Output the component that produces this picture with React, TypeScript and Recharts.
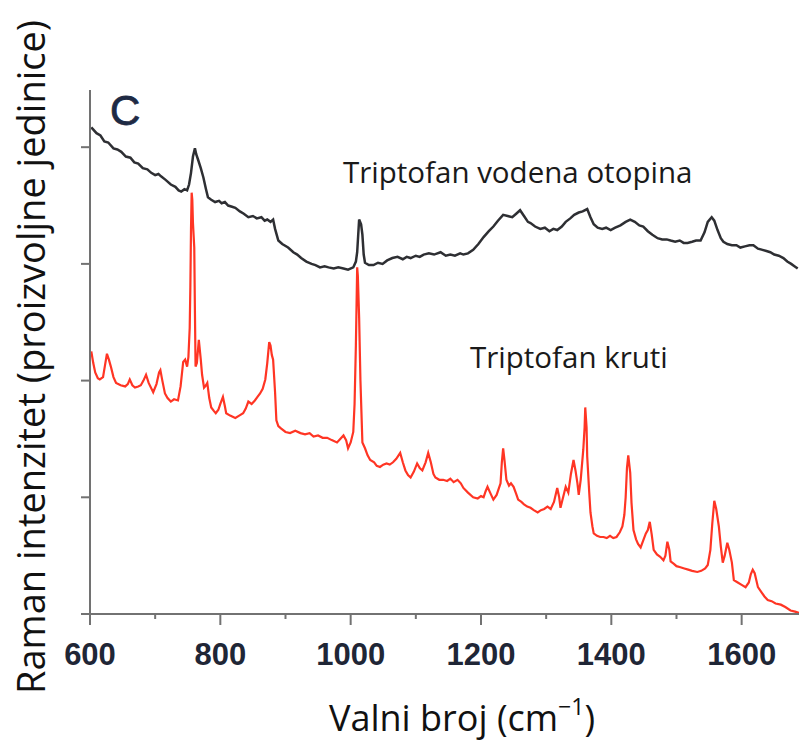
import React from 'react';
import { LineChart, Line, XAxis, YAxis } from 'recharts';

// wavenumber (cm-1) and intensity
const aqWn = [602, 610, 616, 622, 628, 636, 642, 648, 655, 662, 668, 674, 681, 688, 694, 700, 705, 709, 716, 724, 731, 736, 740, 745, 749, 752, 755, 758, 761, 763, 766, 770, 774, 778, 781, 786, 792, 798, 802, 807, 812, 818, 823, 830, 836, 843, 850, 856, 863, 868, 872, 877, 881, 884, 889, 895, 904, 912, 918, 924, 932, 940, 946, 953, 960, 966, 974, 981, 989, 996, 1004, 1008, 1010, 1013, 1016, 1018, 1020, 1022, 1028, 1035, 1042, 1049, 1056, 1064, 1072, 1080, 1086, 1092, 1100, 1106, 1112, 1120, 1128, 1138, 1146, 1153, 1160, 1168, 1173, 1180, 1188, 1196, 1204, 1212, 1219, 1226, 1234, 1241, 1248, 1254, 1260, 1266, 1272, 1276, 1283, 1291, 1298, 1305, 1311, 1317, 1324, 1330, 1337, 1343, 1350, 1356, 1363, 1368, 1373, 1379, 1386, 1392, 1399, 1406, 1414, 1422, 1429, 1436, 1443, 1449, 1456, 1463, 1471, 1478, 1485, 1491, 1498, 1505, 1511, 1517, 1524, 1530, 1537, 1543, 1548, 1554, 1558, 1563, 1568, 1572, 1578, 1585, 1592, 1598, 1605, 1612, 1618, 1625, 1632, 1638, 1644, 1650, 1657, 1664, 1670, 1676, 1681, 1686];
const aqVal = [4.17, 4.12, 4.10, 4.05, 4.04, 3.99, 3.98, 3.96, 3.92, 3.91, 3.87, 3.86, 3.82, 3.81, 3.78, 3.76, 3.77, 3.75, 3.72, 3.68, 3.66, 3.63, 3.62, 3.64, 3.63, 3.68, 3.78, 3.92, 3.99, 3.94, 3.89, 3.82, 3.74, 3.64, 3.57, 3.55, 3.53, 3.54, 3.52, 3.53, 3.50, 3.49, 3.48, 3.45, 3.43, 3.40, 3.41, 3.39, 3.40, 3.37, 3.38, 3.36, 3.38, 3.30, 3.20, 3.17, 3.14, 3.10, 3.08, 3.05, 3.02, 3.00, 2.99, 2.97, 2.98, 2.97, 2.96, 2.97, 2.96, 2.95, 2.97, 3.02, 3.10, 3.38, 3.34, 3.25, 3.08, 3.01, 2.99, 2.99, 3.01, 3.00, 3.03, 3.05, 3.06, 3.04, 3.06, 3.05, 3.07, 3.06, 3.08, 3.09, 3.08, 3.10, 3.07, 3.08, 3.07, 3.09, 3.08, 3.09, 3.12, 3.17, 3.23, 3.28, 3.32, 3.37, 3.42, 3.41, 3.40, 3.43, 3.46, 3.41, 3.36, 3.35, 3.32, 3.30, 3.31, 3.28, 3.30, 3.29, 3.32, 3.36, 3.39, 3.42, 3.44, 3.45, 3.47, 3.40, 3.34, 3.31, 3.30, 3.31, 3.29, 3.31, 3.33, 3.36, 3.38, 3.36, 3.33, 3.32, 3.28, 3.25, 3.22, 3.21, 3.21, 3.20, 3.19, 3.20, 3.18, 3.18, 3.19, 3.20, 3.20, 3.27, 3.36, 3.40, 3.37, 3.29, 3.22, 3.19, 3.17, 3.16, 3.16, 3.14, 3.15, 3.16, 3.16, 3.13, 3.12, 3.11, 3.10, 3.08, 3.07, 3.05, 3.02, 3.00, 2.98, 2.96];

const solWn = [602, 605, 608, 612, 615, 620, 623, 626, 629, 632, 636, 640, 647, 654, 658, 661, 665, 669, 674, 678, 682, 686, 690, 697, 702, 706, 708, 711, 715, 719, 724, 729, 735, 739, 743, 746, 749, 751, 753, 754, 755, 756, 757, 758, 760, 761, 762, 764, 767, 770, 772, 775, 778, 780, 783, 786, 790, 793, 797, 800, 804, 807, 809, 815, 823, 829, 835, 839, 843, 848, 853, 857, 861, 865, 869, 872, 875, 877, 879, 881, 884, 886, 889, 893, 900, 907, 915, 923, 930, 937, 943, 950, 957, 964, 971, 979, 984, 989, 993, 996, 1000, 1004, 1006, 1008, 1010, 1011, 1013, 1015, 1018, 1022, 1026, 1030, 1036, 1040, 1045, 1050, 1055, 1060, 1065, 1070, 1076, 1080, 1084, 1088, 1092, 1097, 1102, 1106, 1110, 1115, 1119, 1123, 1127, 1130, 1136, 1142, 1148, 1153, 1158, 1164, 1169, 1173, 1180, 1188, 1195, 1200, 1204, 1207, 1210, 1214, 1219, 1224, 1230, 1232, 1234, 1236, 1239, 1243, 1246, 1250, 1254, 1257, 1262, 1266, 1271, 1276, 1281, 1287, 1292, 1297, 1302, 1307, 1312, 1317, 1320, 1322, 1326, 1330, 1334, 1338, 1342, 1345, 1348, 1350, 1353, 1357, 1359, 1360, 1362, 1363, 1366, 1368, 1371, 1373, 1378, 1383, 1388, 1393, 1398, 1403, 1408, 1413, 1417, 1420, 1422, 1424, 1426, 1429, 1431, 1434, 1438, 1441, 1445, 1449, 1453, 1456, 1459, 1462, 1465, 1470, 1475, 1480, 1483, 1486, 1489, 1491, 1496, 1500, 1506, 1512, 1518, 1524, 1532, 1538, 1544, 1548, 1552, 1555, 1558, 1561, 1565, 1568, 1571, 1574, 1578, 1581, 1585, 1588, 1594, 1600, 1606, 1611, 1614, 1617, 1620, 1625, 1630, 1635, 1640, 1646, 1652, 1660, 1667, 1675, 1682, 1688];
const solVal = [2.25, 2.15, 2.07, 2.02, 2.01, 2.03, 2.13, 2.23, 2.18, 2.12, 2.03, 1.98, 1.96, 1.95, 1.97, 2.01, 1.96, 1.94, 1.95, 1.96, 2.00, 2.05, 1.98, 1.90, 1.97, 2.07, 2.09, 2.00, 1.89, 1.85, 1.82, 1.84, 1.83, 1.95, 2.16, 2.18, 2.12, 2.20, 2.45, 2.80, 3.30, 3.61, 3.55, 3.35, 3.14, 2.60, 2.12, 2.15, 2.35, 2.18, 2.05, 1.94, 1.96, 1.98, 1.85, 1.77, 1.74, 1.72, 1.75, 1.80, 1.86, 1.78, 1.72, 1.70, 1.68, 1.70, 1.72, 1.76, 1.82, 1.80, 1.83, 1.86, 1.89, 1.93, 2.01, 2.15, 2.33, 2.30, 2.22, 2.18, 1.90, 1.66, 1.61, 1.59, 1.56, 1.55, 1.57, 1.55, 1.54, 1.55, 1.52, 1.53, 1.51, 1.51, 1.49, 1.47, 1.50, 1.53, 1.49, 1.42, 1.47, 1.56, 1.80, 2.30, 2.97, 2.90, 2.54, 2.00, 1.47, 1.42, 1.36, 1.32, 1.30, 1.27, 1.26, 1.28, 1.29, 1.28, 1.30, 1.33, 1.38, 1.30, 1.23, 1.19, 1.17, 1.22, 1.29, 1.25, 1.23, 1.30, 1.38, 1.30, 1.20, 1.17, 1.15, 1.15, 1.14, 1.16, 1.13, 1.15, 1.12, 1.08, 1.04, 1.00, 0.99, 1.01, 1.00, 1.05, 1.09, 1.04, 0.98, 1.02, 1.12, 1.30, 1.42, 1.32, 1.15, 1.10, 1.12, 1.09, 1.03, 0.98, 0.96, 0.94, 0.92, 0.91, 0.89, 0.87, 0.89, 0.90, 0.92, 0.90, 0.96, 1.08, 1.00, 0.91, 1.00, 1.09, 1.04, 1.20, 1.32, 1.23, 1.12, 1.02, 1.15, 1.41, 1.60, 1.77, 1.60, 1.35, 1.05, 0.87, 0.75, 0.69, 0.67, 0.66, 0.66, 0.65, 0.67, 0.65, 0.66, 0.70, 0.75, 0.85, 1.00, 1.25, 1.36, 1.21, 0.95, 0.72, 0.64, 0.60, 0.57, 0.63, 0.69, 0.72, 0.79, 0.68, 0.55, 0.51, 0.49, 0.46, 0.50, 0.62, 0.55, 0.45, 0.43, 0.41, 0.40, 0.39, 0.38, 0.37, 0.36, 0.37, 0.39, 0.42, 0.55, 0.78, 0.97, 0.90, 0.75, 0.58, 0.44, 0.50, 0.61, 0.55, 0.44, 0.29, 0.27, 0.25, 0.23, 0.27, 0.34, 0.38, 0.35, 0.23, 0.19, 0.15, 0.12, 0.11, 0.09, 0.08, 0.06, 0.03, 0.02, 0.01];

const xTicks = [600, 700, 800, 900, 1000, 1100, 1200, 1300, 1400, 1500, 1600];
const yTicks = [0, 1, 2, 3, 4];

const aqueous = aqWn.map((wn, i) => ({ wn, v: aqVal[i] }));
const solid = solWn.map((wn, i) => ({ wn, v: solVal[i] }));

const axisColor = '#727272';
const labelFont = '"Open Sans", "Noto Sans", sans-serif';

const XTick = (props: any) => {
  const { x, y, payload } = props;
  const major = payload.value % 200 === 0;
  return (
    <g>
      <line x1={x} x2={x} y1={y} y2={y + (major ? 11 : 5)} stroke={axisColor} strokeWidth={2} />
      {major && (
        <text
          x={x}
          y={y + 51}
          textAnchor="middle"
          fontFamily='"Liberation Sans", Arial, sans-serif'
          fontWeight="bold"
          fontSize={31}
          fill="#1f2636"
        >
          {payload.value}
        </text>
      )}
    </g>
  );
};

// y axis: short outward tick marks only, no numbers
const YTick = (props: any) => {
  const { x, y } = props;
  return <line x1={x} x2={x + 9} y1={y} y2={y} stroke={axisColor} strokeWidth={2} />;
};

export default function App() {
  return (
    <div style={{ position: 'absolute', left: 0, top: 0, background: '#fff' }}>
      <LineChart
        width={799}
        height={744}
        margin={{ top: 90, right: 0, bottom: 0, left: 0 }}
      >
        <XAxis
          type="number"
          dataKey="wn"
          domain={[600, 1688]}
          allowDataOverflow
          ticks={xTicks}
          interval={0}
          height={130}
          tickSize={0}
          tickMargin={0}
          tickLine={false}
          tick={<XTick />}
          axisLine={{ stroke: axisColor, strokeWidth: 2 }}
        />
        <YAxis
          type="number"
          dataKey="v"
          domain={[0, 4.49]}
          allowDataOverflow
          ticks={yTicks}
          interval={0}
          width={90}
          tickSize={9}
          tickMargin={0}
          tickLine={false}
          tick={<YTick />}
          axisLine={{ stroke: axisColor, strokeWidth: 2 }}
        />
        <Line
          data={aqueous}
          dataKey="v"
          type="linear"
          stroke="#2e2f33"
          strokeWidth={2.5}
          dot={false}
          isAnimationActive={false}
        />
        <Line
          data={solid}
          dataKey="v"
          type="linear"
          stroke="#ff3524"
          strokeWidth={2.2}
          dot={false}
          isAnimationActive={false}
        />
        <text x={110} y={125} fontFamily='"Liberation Sans", Arial, sans-serif' fontSize={42} fill="#1e2a44" stroke="#1e2a44" strokeWidth={0.8}>
          C
        </text>
        <text x={343} y={183} fontFamily={labelFont} fontSize={29.5} fill="#1a1a1a">
          Triptofan vodena otopina
        </text>
        <text x={470} y={368} fontFamily={labelFont} fontSize={29.5} fill="#1a1a1a">
          Triptofan kruti
        </text>
        <text
          x={30}
          y={357}
          transform="rotate(-90 30 357)"
          textAnchor="middle"
          dominantBaseline="central"
          fontFamily={labelFont}
          fontSize={38}
          fill="#111"
        >
          Raman intenzitet (proizvoljne jedinice)
        </text>
        <text x={462} y={731} textAnchor="middle" fontFamily={labelFont} fontSize={36} fill="#111">
          Valni broj (cm<tspan fontSize={23} dy={-16}>−1</tspan>
          <tspan fontSize={36} dy={16}>)</tspan>
        </text>
      </LineChart>
    </div>
  );
}
